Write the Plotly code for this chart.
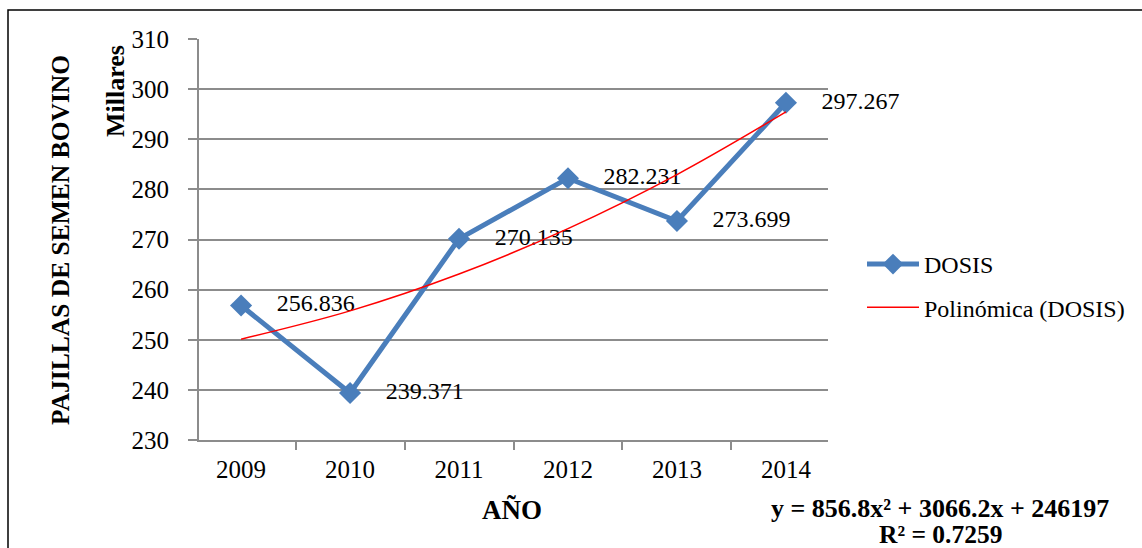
import plotly.graph_objects as go

years = ['2009', '2010', '2011', '2012', '2013', '2014']
dosis = [256.836, 239.371, 270.135, 282.231, 273.699, 297.267]
dosis_labels = ['256.836', '239.371', '270.135', '282.231', '273.699', '297.267']
# polynomial trend (thousands)
trend = [250.12, 255.76, 263.11, 272.17, 282.95, 295.44]

FONT = '"Times New Roman", "Liberation Serif", serif'
GRID = '#8c8c8c'
W, H = 1142, 548
L, R, T, B = 199, 314, 39, 108
pw, ph = W - L - R, H - T - B


def px_x(x):
    return (x - L) / pw


def px_y(y):
    return (H - B - y) / ph


fig = go.Figure()

fig.add_trace(go.Scatter(
    x=years, y=dosis, name='DOSIS', mode='lines+markers+text',
    text=['    ' + t for t in dosis_labels], textposition='middle right',
    textfont=dict(family=FONT, size=24, color='black'),
    line=dict(color='#4a7ebb', width=5),
    marker=dict(symbol='diamond', size=17, color='#4a7ebb'),
    legendgroup='a', cliponaxis=False,
))

fig.add_trace(go.Scatter(
    x=years, y=trend, name='Polinómica (DOSIS)', mode='lines',
    line=dict(color='#ff0000', width=1.5, shape='spline'),
    legendgroup='b',
))

fig.update_xaxes(
    type='category', tickson='boundaries', showgrid=False,
    ticks='outside', ticklen=8, tickcolor=GRID, tickwidth=2,
    showline=True, linecolor=GRID, linewidth=2, ticklabelstandoff=6,
    tickfont=dict(family=FONT, size=25, color='black'),
)
fig.update_yaxes(
    range=[230, 310], dtick=10, showgrid=True, gridcolor=GRID, gridwidth=2,
    ticks='outside', ticklen=9, tickcolor=GRID, tickwidth=2,
    showline=True, linecolor=GRID, linewidth=2, zeroline=False,
    ticklabelstandoff=14,
    tickfont=dict(family=FONT, size=25, color='black'),
)

annots = [
    dict(text='<b>PAJILLAS DE SEMEN BOVINO</b>', x=px_x(60), y=px_y(240), textangle=-90,
         font=dict(size=25.5)),
    dict(text='<b>Millares</b>', x=px_x(115), y=px_y(91), textangle=-90, font=dict(size=26)),
    dict(text='<b>AÑO</b>', x=px_x(512), y=px_y(510), font=dict(size=27)),
    dict(text='<b>y = 856.8x² + 3066.2x + 246197</b>', x=px_x(940), y=px_y(508), font=dict(size=26)),
    dict(text='<b>R² = 0.7259</b>', x=px_x(940), y=px_y(534), font=dict(size=25.5)),
]
for a in annots:
    fig.add_annotation(xref='paper', yref='paper', showarrow=False,
                       xanchor='center', yanchor='middle',
                       text=a['text'], x=a['x'], y=a['y'], textangle=a.get('textangle', 0),
                       font=dict(family=FONT, color='black', size=a['font']['size']))

# outer chart border
fig.add_shape(type='rect', xref='paper', yref='paper',
              x0=px_x(8), x1=px_x(1160), y0=px_y(570), y1=px_y(10),
              line=dict(color='black', width=1.5))

fig.update_layout(
    width=W, height=H,
    margin=dict(l=L, r=R, t=T, b=B),
    paper_bgcolor='white', plot_bgcolor='white',
    showlegend=True,
    legend=dict(x=px_x(862), y=px_y(242), xanchor='left', yanchor='top',
                traceorder='grouped', tracegroupgap=9,
                font=dict(family=FONT, size=24, color='black'),
                itemwidth=52),
)

fig.write_html('out.html', config={'displayModeBar': False},
               post_script="document.body.style.margin='0';")
